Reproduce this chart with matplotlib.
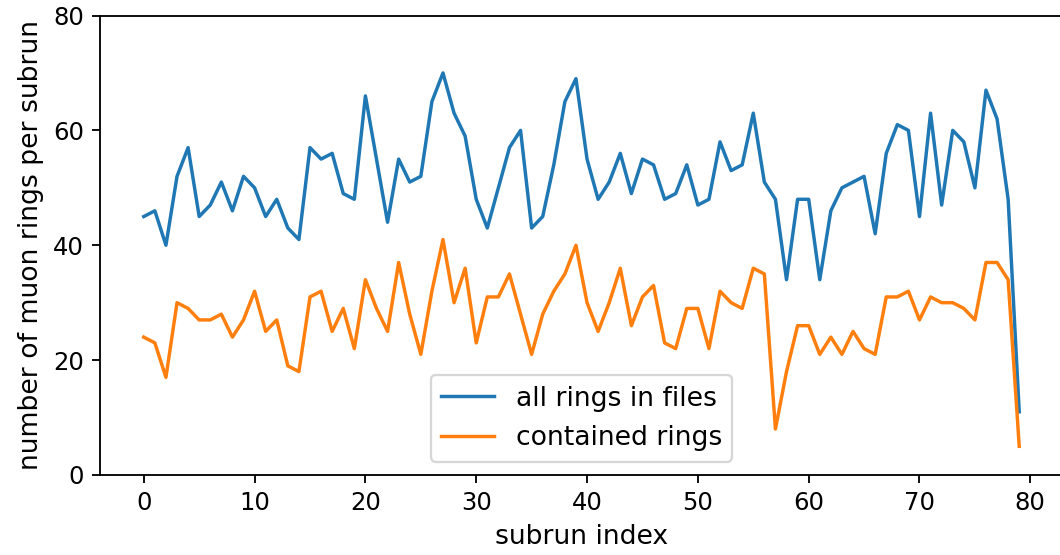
import matplotlib
matplotlib.use("Agg")
import matplotlib.pyplot as plt
from matplotlib.ticker import MultipleLocator

# rings per subrun
subrun = list(range(80))

all_rings = [45, 46, 40, 52, 57, 45, 47, 51, 46, 52,
             50, 45, 48, 43, 41, 57, 55, 56, 49, 48,
             66, 55, 44, 55, 51, 52, 65, 70, 63, 59,
             48, 43, 50, 57, 60, 43, 45, 54, 65, 69,
             55, 48, 51, 56, 49, 55, 54, 48, 49, 54,
             47, 48, 58, 53, 54, 63, 51, 48, 34, 48,
             48, 34, 46, 50, 51, 52, 42, 56, 61, 60,
             45, 63, 47, 60, 58, 50, 67, 62, 48, 11]

contained = [24, 23, 17, 30, 29, 27, 27, 28, 24, 27,
             32, 25, 27, 19, 18, 31, 32, 25, 29, 22,
             34, 29, 25, 37, 28, 21, 32, 41, 30, 36,
             23, 31, 31, 35, 28, 21, 28, 32, 35, 40,
             30, 25, 30, 36, 26, 31, 33, 23, 22, 29,
             29, 22, 32, 30, 29, 36, 35, 8, 18, 26,
             26, 21, 24, 21, 25, 22, 21, 31, 31, 32,
             27, 31, 30, 30, 29, 27, 37, 37, 34, 5]

fig = plt.figure(figsize=(1060 / 165, 555 / 165), dpi=165)
ax = fig.add_axes([100 / 1060, 80 / 555, 963 / 1060, 459.5 / 555])

ax.plot(subrun, all_rings, label="all rings in files")
ax.plot(subrun, contained, label="contained rings")

ax.set_ylim(0, 80)
ax.yaxis.set_major_locator(MultipleLocator(20))
ax.tick_params(labelsize=10.6)
ax.set_xlabel("subrun index", fontsize=11.6)
ax.set_ylabel("number of muon rings per subrun", fontsize=11.6)
ax.legend(loc="lower center", fontsize=11.6)

fig.savefig("out.png", dpi=165)
